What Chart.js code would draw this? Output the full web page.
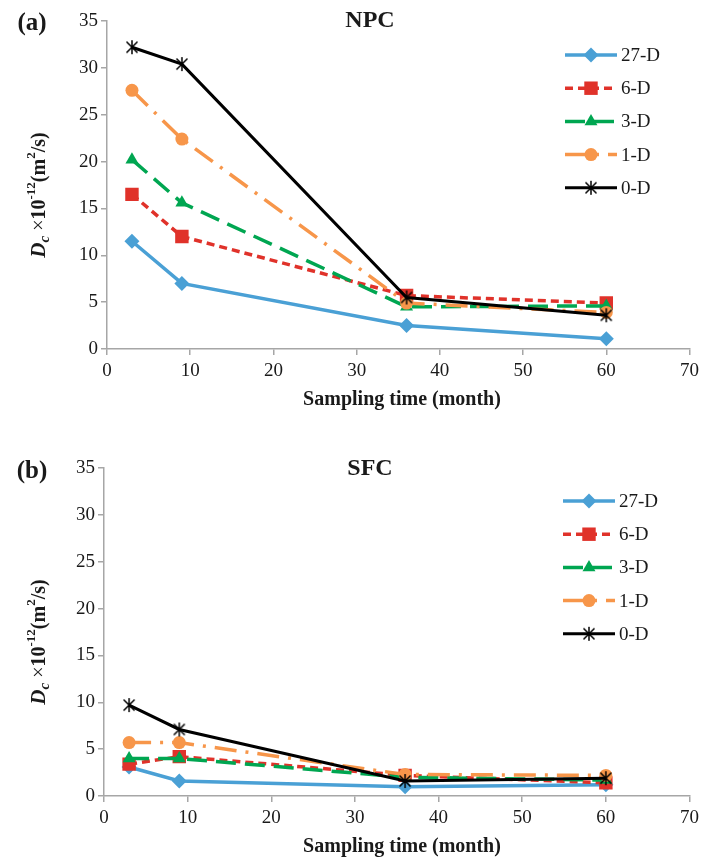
<!DOCTYPE html>
<html>
<head>
<meta charset="utf-8">
<script src="https://cdn.jsdelivr.net/npm/chart.js@4/dist/chart.umd.min.js"></script>
<style>
  body { margin: 0; background: #fff; }
  canvas { display: block; }
</style>
</head>
<body>
<div style="width:704px;height:430px"><canvas id="npcChart" width="704" height="430"></canvas></div>
<div style="width:704px;height:431px"><canvas id="sfcChart" width="704" height="431"></canvas></div>
<script>
// sampling time in months
const months = [3, 9, 36, 60];
const seriesNames = ['27-D', '6-D', '3-D', '1-D', '0-D'];

// NPC, Dc x 10^-12 m2/s
const npc27 = [11.5, 7.0, 2.5, 1.1];
const npc6 = [16.5, 12.0, 5.7, 4.9];
const npc3 = [20.2, 15.6, 4.5, 4.6];
const npc1 = [27.6, 22.4, 4.9, 3.9];
const npc0 = [32.2, 30.4, 5.5, 3.6];

// SFC
const sfc27 = [3.1, 1.6, 1.0, 1.2];
const sfc6 = [3.4, 4.2, 2.2, 1.4];
const sfc3 = [4.0, 4.0, 2.0, 1.7];
const sfc1 = [5.7, 5.7, 2.3, 2.2];
const sfc0 = [9.7, 7.1, 1.6, 1.9];

const xTicks = [0, 10, 20, 30, 40, 50, 60, 70];
const yTicks = [0, 5, 10, 15, 20, 25, 30, 35];

const FONT = '"Liberation Serif", "Times New Roman", serif';
const AXIS_GREY = '#a6a6a6';

// asterisk marker (x plus a vertical bar)
function makeAsterisk() {
    const c = document.createElement('canvas');
    c.width = 16; c.height = 16;
    const g = c.getContext('2d');
    g.strokeStyle = '#000';
    g.lineWidth = 1.5;
    g.beginPath();
    g.moveTo(2.5, 2.5); g.lineTo(13.5, 13.5);
    g.moveTo(13.5, 2.5); g.lineTo(2.5, 13.5);
    g.moveTo(8, 1); g.lineTo(8, 15);
    g.stroke();
    return c;
}
const asterisk = makeAsterisk();

const styles = [
    { color: '#4aa0d5', dash: [], width: 3.5, point: 'rectRot', radius: 7.5 },
    { color: '#e0322a', dash: [8, 5], width: 3.5, point: 'rect', radius: 9.5 },
    { color: '#00a651', dash: [20, 9], width: 3.5, point: 'triangle', radius: 7.5 },
    { color: '#f7964a', dash: [22, 9, 3, 9], width: 3.5, point: 'circle', radius: 6.5 },
    { color: '#000000', dash: [], width: 3, point: asterisk, radius: 8 }
];

function buildDatasets(values) {
    return values.map((vals, i) => ({
        label: seriesNames[i],
        data: months.map((m, j) => ({ x: m, y: vals[j] })),
        borderColor: styles[i].color,
        backgroundColor: styles[i].color,
        borderDash: styles[i].dash,
        borderWidth: styles[i].width,
        pointStyle: styles[i].point,
        pointRadius: styles[i].radius,
        pointBorderWidth: 0,
        pointBackgroundColor: styles[i].color,
        pointBorderColor: styles[i].color,
        tension: 0,
        order: 5 - i
    }));
}

// draws the legend (line + marker), panel letter, title and axis titles
const decorPlugin = {
    id: 'decor',
    afterDraw(chart, args, opts) {
        const ctx = chart.ctx;
        const area = chart.chartArea;
        ctx.save();

        // legend
        chart.data.datasets.forEach((ds, i) => {
            const y = opts.legendTop + i * 33.2;
            const x0 = opts.legendLeft, x1 = x0 + 52;
            ctx.strokeStyle = ds.borderColor;
            ctx.lineWidth = ds.borderWidth;
            ctx.setLineDash(ds.borderDash);
            ctx.beginPath();
            ctx.moveTo(x0, y); ctx.lineTo(x1, y);
            ctx.stroke();
            ctx.setLineDash([]);
            ctx.fillStyle = ds.backgroundColor;
            ctx.strokeStyle = ds.borderColor;
            Chart.helpers.drawPoint(ctx, {
                pointStyle: ds.pointStyle,
                radius: ds.pointRadius,
                borderWidth: 0,
                rotation: 0
            }, (x0 + x1) / 2, y);
            ctx.fillStyle = '#1a1a1a';
            ctx.font = '19px ' + FONT;
            ctx.textAlign = 'left';
            ctx.textBaseline = 'middle';
            ctx.fillText(ds.label, x1 + 4, y + 1);
        });

        ctx.fillStyle = '#1a1a1a';
        ctx.textBaseline = 'middle';
        ctx.textAlign = 'center';
        ctx.font = 'bold 25px ' + FONT;
        ctx.fillText(opts.panel, 32, opts.panelY);
        ctx.font = 'bold 24px ' + FONT;
        ctx.fillText(opts.title, 370, opts.panelY - 3);

        ctx.font = 'bold 20px ' + FONT;
        ctx.fillText('Sampling time (month)', 402, area.bottom + 51);

        // y axis title with sub/superscripts
        const parts = [
            { t: 'D', f: 'italic bold 21px ', dy: 0 },
            { t: 'c', f: 'italic bold 15px ', dy: 5 },
            { t: ' \u00d7', f: '20px ', dy: 0 },
            { t: '10', f: 'bold 20px ', dy: 0 },
            { t: '-12', f: 'bold 13px ', dy: -8 },
            { t: '(m', f: 'bold 20px ', dy: 0 },
            { t: '2', f: 'bold 13px ', dy: -8 },
            { t: '/s)', f: 'bold 20px ', dy: 0 }
        ];
        let total = 0;
        parts.forEach(p => { ctx.font = p.f + FONT; p.w = ctx.measureText(p.t).width; total += p.w; });
        ctx.translate(40, area.top + 174);
        ctx.rotate(-Math.PI / 2);
        ctx.textAlign = 'left';
        let px = -total / 2;
        parts.forEach(p => {
            ctx.font = p.f + FONT;
            ctx.fillText(p.t, px, p.dy);
            px += p.w;
        });
        ctx.restore();
    }
};

function makeChart(id, values, box) {
    new Chart(document.getElementById(id), {
        type: 'line',
        data: { datasets: buildDatasets(values) },
        plugins: [decorPlugin],
        options: {
            responsive: false,
            animation: false,
            events: [],
            layout: { padding: { left: 0, right: box.right, top: box.top, bottom: 0 } },
            plugins: {
                legend: { display: false },
                tooltip: { enabled: false },
                decor: box.decor
            },
            scales: {
                x: {
                    type: 'linear',
                    min: 0, max: 70,
                    afterBuildTicks: s => { s.ticks = xTicks.map(v => ({ value: v })); },
                    afterFit: s => { s.height = box.xHeight; },
                    grid: { drawOnChartArea: false, drawTicks: true, tickLength: 6, color: AXIS_GREY, lineWidth: 1.5 },
                    border: { color: AXIS_GREY, width: 1.5 },
                    ticks: { color: '#1a1a1a', font: { family: FONT, size: 19 }, padding: 5, maxRotation: 0 }
                },
                y: {
                    min: 0, max: 35,
                    afterBuildTicks: s => { s.ticks = yTicks.map(v => ({ value: v })); },
                    afterFit: s => { s.width = box.left; },
                    grid: { drawOnChartArea: false, drawTicks: true, tickLength: 6, color: AXIS_GREY, lineWidth: 1.5 },
                    border: { color: AXIS_GREY, width: 1.5 },
                    ticks: { color: '#1a1a1a', font: { family: FONT, size: 19 }, padding: 3 }
                }
            }
        }
    });
}

makeChart('npcChart', [npc27, npc6, npc3, npc1, npc0], {
    left: 107, right: 11, top: 21, xHeight: 81,
    decor: { panel: '(a)', title: 'NPC', panelY: 24, legendTop: 55, legendLeft: 565 }
});
makeChart('sfcChart', [sfc27, sfc6, sfc3, sfc1, sfc0], {
    left: 104, right: 13, top: 38, xHeight: 65,
    decor: { panel: '(b)', title: 'SFC', panelY: 42, legendTop: 71, legendLeft: 563 }
});
</script>
</body>
</html>
